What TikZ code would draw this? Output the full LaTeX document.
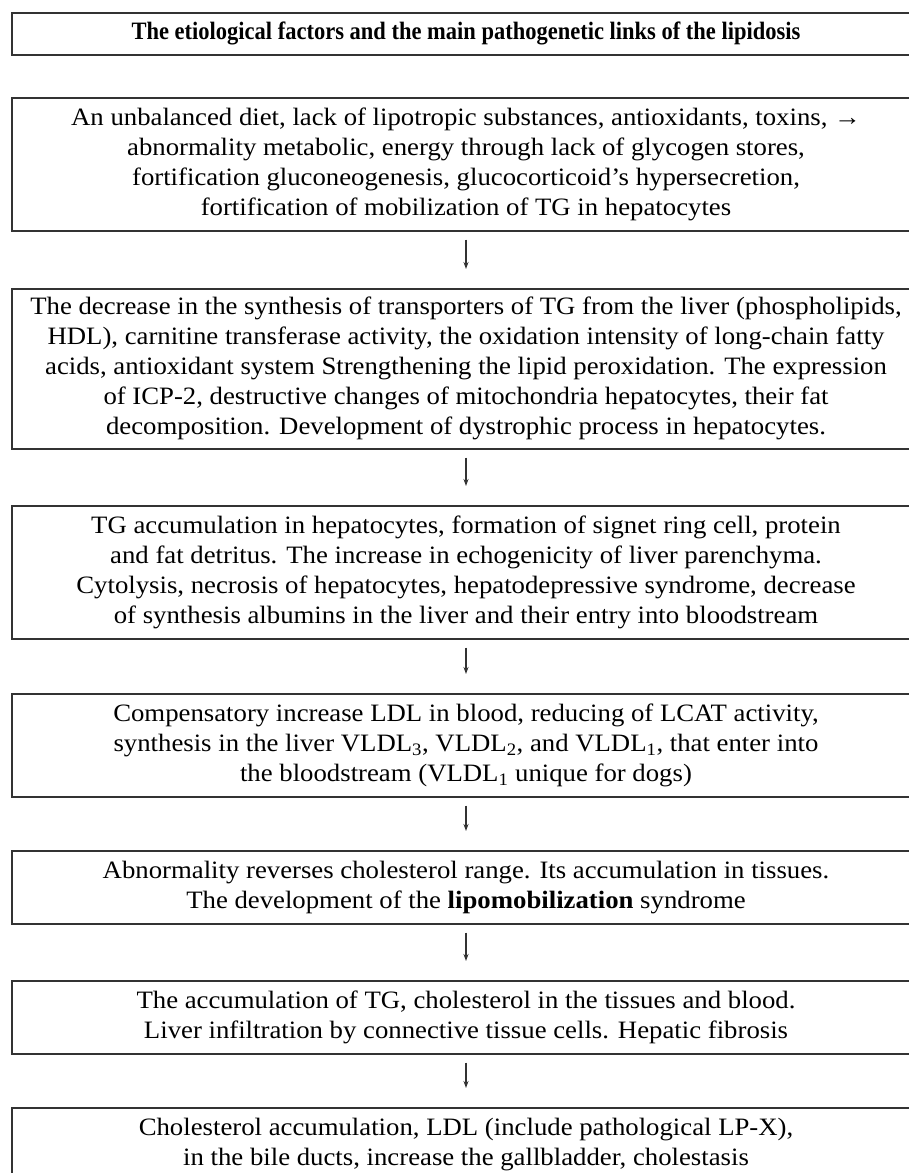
\documentclass[tikz,border=0pt]{standalone}
\usepackage{fontspec}
\setmainfont[FakeStretch=1.07]{Liberation Serif}
\newfontfamily\headfont[FakeStretch=0.9]{Liberation Serif}
\usetikzlibrary{arrows.meta}
\begin{document}
\begin{tikzpicture}[x=1pt,y=-1pt,
  stagebox/.style={draw=black!80, line width=1.6pt, minimum width=908pt, anchor=north,
    align=center, inner sep=0pt, font=\fontsize{25}{30}\selectfont},
  titlebox/.style={stagebox, font=\headfont\fontsize{25}{30}\selectfont\bfseries},
  flowarrow/.style={-{Stealth[length=7pt,width=5pt]}, line width=1.1pt, black!80,
    shorten <=8pt, shorten >=19pt}]
\useasboundingbox (0,0) rectangle (909,1173);
\clip (0,0) rectangle (909,1173);
\node[titlebox, minimum height=42pt] (b1) at (466,12)
  {The etiological factors and the main pathogenetic links of the lipidosis};
\node[stagebox, minimum height=133pt] (b2) at (466,97)
  {An unbalanced diet, lack of lipotropic substances, antioxidants, toxins, →\\
   abnormality metabolic, energy through lack of glycogen stores,\\
   fortification gluconeogenesis, glucocorticoid’s hypersecretion,\\
   fortification of mobilization of TG in hepatocytes};
\node[stagebox, minimum height=160pt] (b3) at (466,288)
  {The decrease in the synthesis of transporters of TG from the liver (phospholipids,\\
   HDL), carnitine transferase activity, the oxidation intensity of long-chain fatty\\
   acids, antioxidant system Strengthening the lipid peroxidation. The expression\\
   of ICP-2, destructive changes of mitochondria hepatocytes, their fat\\
   decomposition. Development of dystrophic process in hepatocytes.};
\node[stagebox, minimum height=133pt] (b4) at (466,505)
  {TG accumulation in hepatocytes, formation of signet ring cell, protein\\
   and fat detritus. The increase in echogenicity of liver parenchyma.\\
   Cytolysis, necrosis of hepatocytes, hepatodepressive syndrome, decrease\\
   of synthesis albumins in the liver and their entry into bloodstream};
\node[stagebox, minimum height=103pt] (b5) at (466,693)
  {Compensatory increase LDL in blood, reducing of LCAT activity,\\
   synthesis in the liver VLDL\textsubscript{3}, VLDL\textsubscript{2}, and VLDL\textsubscript{1}, that enter into\\
   the bloodstream (VLDL\textsubscript{1} unique for dogs)};
\node[stagebox, minimum height=73pt] (b6) at (466,850)
  {Abnormality reverses cholesterol range. Its accumulation in tissues.\\
   The development of the \textbf{lipomobilization} syndrome};
\node[stagebox, minimum height=73pt] (b7) at (466,980)
  {The accumulation of TG, cholesterol in the tissues and blood.\\
   Liver infiltration by connective tissue cells. Hepatic fibrosis};
\node[stagebox, minimum height=73pt] (b8) at (466,1107)
  {Cholesterol accumulation, LDL (include pathological LP-X),\\
   in the bile ducts, increase the gallbladder, cholestasis};
\draw[flowarrow] (b2) -- (b3);
\draw[flowarrow] (b3) -- (b4);
\draw[flowarrow] (b4) -- (b5);
\draw[flowarrow] (b5) -- (b6);
\draw[flowarrow] (b6) -- (b7);
\draw[flowarrow] (b7) -- (b8);
\end{tikzpicture}
\end{document}
